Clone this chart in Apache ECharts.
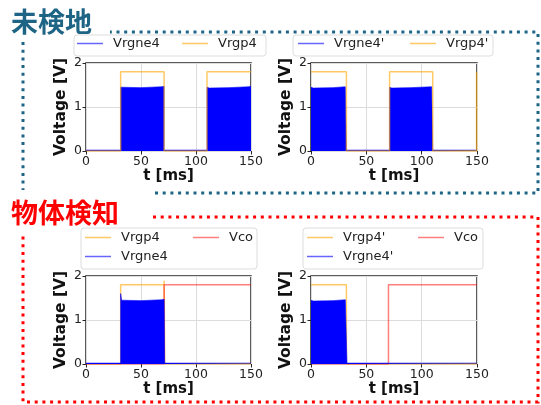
<!DOCTYPE html>
<html><head><meta charset="utf-8">
<script src="https://cdn.jsdelivr.net/npm/echarts@6/dist/echarts.min.js"></script>
<style>html,body{margin:0;padding:0;background:#fff}#c{width:541px;height:405px}</style>
</head><body><div id="c"></div>
<script>
// ---- data ----
const xTicks = [0, 50, 100, 150];
const yTicks = [0, 1, 2];
// top-left (未検地)
const tlGp4T  = [0, 31.5, 31.5, 71, 71, 110, 110, 150];
const tlGp4V  = [0, 0, 1.8, 1.8, 0, 0, 1.8, 1.8];
const tlGne4T = [0, 31.5, 31.5, 33, 50, 69, 71, 71, 110, 110, 112, 130, 148, 150];
const tlGne4V = [0.02, 0.02, 1.45, 1.43, 1.44, 1.46, 1.47, 0.02, 0.02, 1.45, 1.43, 1.44, 1.46, 1.47];
// top-right (未検地)
const trGp4T  = [0, 32, 32, 71, 71, 110, 110, 149.6, 149.6, 150];
const trGp4V  = [1.8, 1.8, 0, 0, 1.8, 1.8, 0, 0, 1.8, 1.8];
const trGne4T = [0, 2, 20, 31, 32, 32, 71, 71, 73, 90, 109, 110, 110, 150];
const trGne4V = [1.45, 1.43, 1.44, 1.46, 1.47, 0.02, 0.02, 1.45, 1.43, 1.44, 1.46, 1.47, 0.02, 0.02];
// bottom-left (物体検知)
const blGp4T  = [0, 31.5, 31.5, 71, 71, 71.6, 150];
const blGp4V  = [0, 0, 1.8, 1.8, 1.9, 0, 0];
const blCoT   = [0, 71, 71, 150];
const blCoV   = [0, 0, 1.8, 1.8];
const blGne4T = [0, 31.5, 31.5, 32.3, 34, 50, 69, 71, 71.5, 150];
const blGne4V = [0.02, 0.02, 1.6, 1.45, 1.43, 1.44, 1.46, 1.47, 0.02, 0.02];
// bottom-right (物体検知)
const brGp4T  = [0, 32, 32, 150];
const brGp4V  = [1.8, 1.8, 0, 0];
const brCoT   = [0, 70, 70, 150];
const brCoV   = [0, 0, 1.8, 1.8];
const brGne4T = [0, 2, 20, 31, 32, 32.5, 150];
const brGne4V = [1.45, 1.43, 1.44, 1.46, 1.47, 0.02, 0.02];

const zip = (t, v) => t.map((x, i) => [x, v[i]]);

// ---- styles ----
const ORANGE = 'rgba(255,165,0,0.6)';
const BLUE_L = 'rgba(0,0,255,0.6)';
const RED_L = 'rgba(255,0,0,0.5)';
const FONT = 'DejaVu Sans';
const TEAL = '#1d6485';

const grids = [
  {left: 86, top: 63, width: 165, height: 88},
  {left: 311, top: 63, width: 166, height: 88},
  {left: 86, top: 276, width: 165, height: 88},
  {left: 311, top: 276, width: 166, height: 88}
].map(g => Object.assign({show: true, borderColor: '#262626', borderWidth: 1.5, backgroundColor: 'transparent'}, g));

const xAxes = grids.map((g, i) => ({
  type: 'value', gridIndex: i, min: xTicks[0], max: xTicks[xTicks.length - 1], interval: 50,
  name: 't [ms]', nameLocation: 'middle', nameGap: 18,
  nameTextStyle: {fontFamily: FONT, fontWeight: 'bold', fontSize: 15, color: '#111'},
  axisLine: {show: false}, axisTick: {show: true, length: 3.5, lineStyle: {color: '#262626'}},
  axisLabel: {fontFamily: FONT, fontSize: 12.5, color: '#222', margin: 4},
  splitLine: {show: true, lineStyle: {color: '#dcdcdc', width: 1}}
}));
const yAxes = grids.map((g, i) => ({
  type: 'value', gridIndex: i, min: yTicks[0], max: yTicks[yTicks.length - 1], interval: 1,
  name: 'Voltage [V]', nameLocation: 'middle', nameGap: 17, nameRotate: 90,
  nameTextStyle: {fontFamily: FONT, fontWeight: 'bold', fontSize: 15.5, color: '#111'},
  axisLine: {show: false}, axisTick: {show: true, length: 3.5, lineStyle: {color: '#262626'}},
  axisLabel: {fontFamily: FONT, fontSize: 12.5, color: '#222', margin: 4},
  splitLine: {show: true, lineStyle: {color: '#dcdcdc', width: 1}}
}));

function lineS(name, idx, t, v, color, z) {
  return {type: 'line', name, xAxisIndex: idx, yAxisIndex: idx, data: zip(t, v), symbol: 'none',
    showSymbol: false, lineStyle: {color, width: 1.5}, itemStyle: {color}, z, animation: false};
}
function areaS(name, idx, t, v, z) {
  return {type: 'line', name, xAxisIndex: idx, yAxisIndex: idx, data: zip(t, v), symbol: 'none',
    showSymbol: false, lineStyle: {color: BLUE_L, width: 1}, itemStyle: {color: BLUE_L},
    areaStyle: {color: '#0000ff', opacity: 1, origin: 'start'}, z, animation: false};
}

const series = [
  areaS('Vrgne4', 0, tlGne4T, tlGne4V, 2),
  lineS('Vrgp4', 0, tlGp4T, tlGp4V, ORANGE, 3),
  areaS("Vrgne4'", 1, trGne4T, trGne4V, 2),
  lineS("Vrgp4'", 1, trGp4T, trGp4V, ORANGE, 3),
  lineS('Vrgp4', 2, blGp4T, blGp4V, ORANGE, 2),
  lineS('Vco', 2, blCoT, blCoV, RED_L, 3),
  areaS('Vrgne4', 2, blGne4T, blGne4V, 4),
  lineS("Vrgp4'", 3, brGp4T, brGp4V, ORANGE, 2),
  lineS('Vco', 3, brCoT, brCoV, RED_L, 3),
  areaS("Vrgne4'", 3, brGne4T, brGne4V, 4)
];

function leg(name, left, cy) {
  return {show: true, data: [name], left, top: cy - 8, icon: 'rect', itemWidth: 26, itemHeight: 1.5, padding: 0,
    selectedMode: false, textStyle: {fontFamily: FONT, fontSize: 13, color: '#222', padding: [0, 0, 0, 5]}, z: 10};
}
const legends = [
  leg('Vrgne4', 77, 45), leg('Vrgp4', 182, 45),
  leg("Vrgne4'", 298, 45), leg("Vrgp4'", 410, 45),
  leg('Vrgp4', 85, 239), leg('Vco', 193, 239), leg('Vrgne4', 85, 258),
  leg("Vrgp4'", 307, 239), leg('Vco', 418, 239), leg("Vrgne4'", 307, 258)
];

const dot = {lineDash: [3, 4.7], lineWidth: 3, lineCap: 'butt', fill: null};
const graphic = [
  {type: 'polyline', shape: {points: [[155, 193], [538, 193], [538, 32], [110, 32]]}, style: Object.assign({stroke: TEAL}, dot), z: 1},
  {type: 'polyline', shape: {points: [[23, 42], [23, 190]]}, style: Object.assign({stroke: TEAL}, dot), z: 1},
  {type: 'polyline', shape: {points: [[153, 217], [538, 217], [538, 402], [23, 402], [23, 235]]}, style: Object.assign({stroke: '#ff0000'}, dot), z: 1},
  {type: 'text', left: 11, top: 8, style: {text: '未検地', fill: TEAL, font: 'bold 27px "Noto Sans CJK JP"'}, z: 5},
  {type: 'text', left: 11, top: 199, style: {text: '物体検知', fill: '#ff0000', font: 'bold 27px "Noto Sans CJK JP"'}, z: 5},
  {type: 'rect', shape: {x: 74, y: 35, width: 192, height: 21, r: 3}, style: {fill: '#fff', stroke: '#dddddd', lineWidth: 1}, z: 2},
  {type: 'rect', shape: {x: 293, y: 35, width: 200, height: 21, r: 3}, style: {fill: '#fff', stroke: '#dddddd', lineWidth: 1}, z: 2},
  {type: 'rect', shape: {x: 81, y: 228, width: 176, height: 41, r: 3}, style: {fill: '#fff', stroke: '#dddddd', lineWidth: 1}, z: 2},
  {type: 'rect', shape: {x: 303, y: 228, width: 180, height: 41, r: 3}, style: {fill: '#fff', stroke: '#dddddd', lineWidth: 1}, z: 2}
];

const chart = echarts.init(document.getElementById('c'), null, {renderer: 'canvas'});
chart.setOption({
  animation: false, backgroundColor: '#fff',
  grid: grids, xAxis: xAxes, yAxis: yAxes, series, legend: legends, graphic
});
</script></body></html>
